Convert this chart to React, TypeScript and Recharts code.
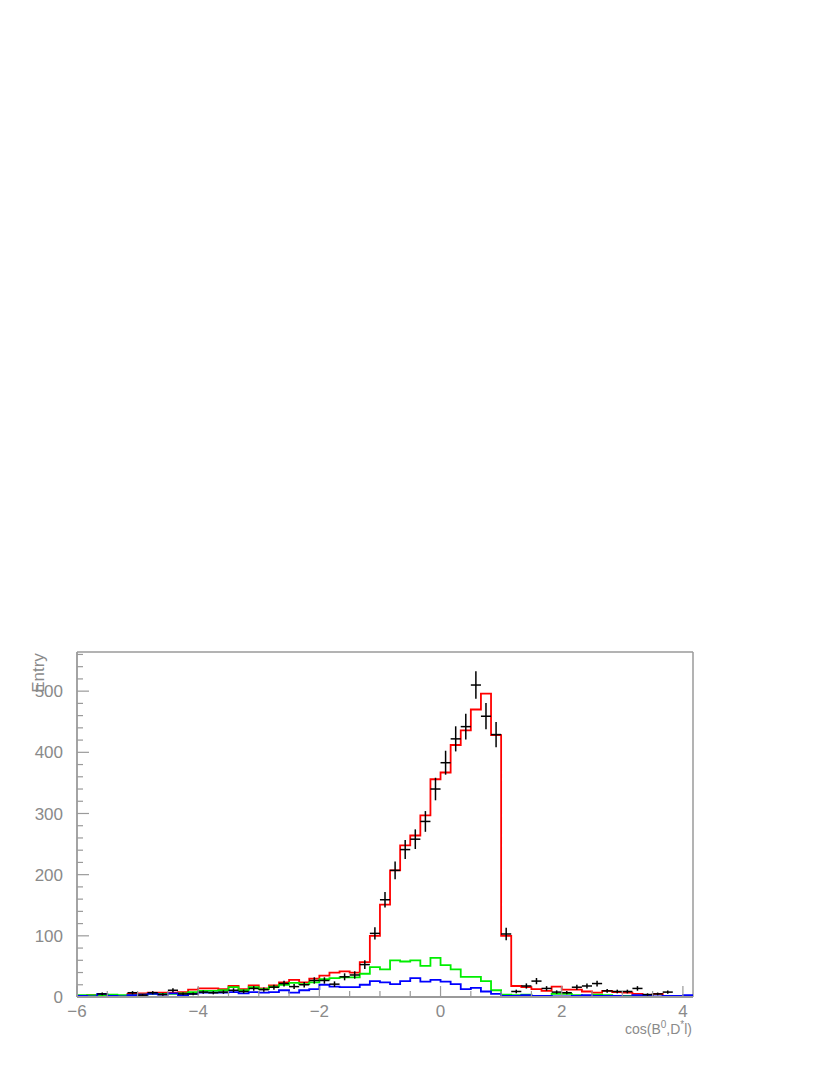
import { ComposedChart, Line, Scatter, ErrorBar, XAxis, YAxis, ReferenceLine } from "recharts";

// binning: 61 bins of width 1/6 starting at -6
const X_MIN = -6;
const BIN_WIDTH = 1 / 6;
const N_BINS = 61;
const X_MAX = X_MIN + N_BINS * BIN_WIDTH;
const Y_MAX = 564;

// measured data (black crosses)
const dataCounts = [
  0, 0, 5, 0, 0, 7, 3, 7, 4, 11, 5, 5, 8, 7, 8, 11, 9, 14, 12, 16,
  22, 17, 20, 27, 27, 21, 33, 36, 53, 104, 159, 207, 241, 258, 287, 340, 383, 422, 442, 510,
  459, 429, 103, 9, 18, 26, 14, 8, 7, 16, 18, 22, 10, 9, 9, 14, 4, 5, 8, 0,
  0,
];

// total fit (red)
const totalFit = [
  2, 3, 3, 2, 2, 5, 6, 7, 7, 7, 8, 12, 14, 14, 13, 18, 13, 19, 14, 19,
  24, 28, 24, 30, 35, 40, 42, 40, 57, 100, 151, 207, 248, 264, 297, 356, 367, 412, 436, 470,
  496, 428, 100, 18, 16, 13, 10, 17, 12, 12, 9, 7, 10, 8, 7, 5, 3, 5, 2, 1,
  1,
];

// background component (green)
const greenBkg = [
  3, 3, 3, 4, 3, 3, 4, 5, 5, 5, 6, 8, 10, 10, 11, 16, 11, 16, 13, 17,
  20, 23, 21, 24, 29, 31, 32, 32, 38, 49, 45, 60, 58, 60, 51, 64, 52, 45, 33, 33,
  26, 11, 4, 3, 4, 2, 2, 5, 5, 3, 2, 4, 3, 2, 2, 2, 1, 0, 2, 1,
  1,
];

// background component (blue)
const blueBkg = [
  2, 1, 5, 2, 1, 3, 4, 5, 4, 6, 3, 5, 7, 7, 7, 8, 6, 8, 7, 8,
  11, 7, 11, 13, 20, 17, 16, 16, 20, 26, 24, 21, 26, 31, 25, 28, 25, 21, 13, 15,
  9, 5, 2, 2, 3, 2, 2, 1, 1, 2, 3, 2, 2, 2, 1, 3, 2, 1, 2, 2,
  3,
];

const xTicks = [-6, -5.5, -5, -4.5, -4, -3.5, -3, -2.5, -2, -1.5, -1, -0.5, 0, 0.5, 1, 1.5, 2, 2.5, 3, 3.5, 4];
const yTicks = [0, 20, 40, 60, 80, 100, 120, 140, 160, 180, 200, 220, 240, 260, 280, 300, 320, 340, 360, 380, 400, 420, 440, 460, 480, 500, 520, 540, 560];

// histogram outline: one point per bin edge, last edge repeats last bin
const histData = Array.from({ length: N_BINS + 1 }, (_, i) => {
  const k = Math.min(i, N_BINS - 1);
  return {
    x: X_MIN + i * BIN_WIDTH,
    red: totalFit[k],
    green: greenBkg[k],
    blue: blueBkg[k],
  };
});

const pointData = dataCounts
  .map((n, i) => ({
    x: X_MIN + (i + 0.5) * BIN_WIDTH,
    y: n,
    ex: BIN_WIDTH / 2,
    ey: Math.sqrt(n),
  }))
  .filter((p) => p.y > 0);

const PLOT_LEFT = 77;
const PLOT_BOTTOM = 997;
const AXIS = "#9a9a9a";
const LABEL = "#8a8a8a";
const FONT = "'Liberation Sans', Arial, sans-serif";

const XTick = (props: any) => {
  const { x, payload } = props;
  const v = payload.value;
  const major = v % 2 === 0;
  return (
    <g>
      <line x1={x} x2={x} y1={PLOT_BOTTOM} y2={PLOT_BOTTOM - (major ? 11 : 6)} stroke={AXIS} strokeWidth={1.2} />
      {major && (
        <text x={x} y={PLOT_BOTTOM + 20} textAnchor="middle" fontSize={17} fontFamily={FONT} fill={LABEL}>
          {v < 0 ? `\u2212${-v}` : `${v}`}
        </text>
      )}
    </g>
  );
};

const YTick = (props: any) => {
  const { y, payload } = props;
  const v = payload.value;
  const major = v % 100 === 0;
  return (
    <g>
      <line x1={PLOT_LEFT} x2={PLOT_LEFT + (major ? 12 : 6)} y1={y} y2={y} stroke={AXIS} strokeWidth={1.2} />
      {major && (
        <text x={63} y={y} dy="0.36em" textAnchor="end" fontSize={17} fontFamily={FONT} fill={LABEL}>
          {v}
        </text>
      )}
    </g>
  );
};

const XTitle = () => (
  <text x={692} y={1034} textAnchor="end" fontSize={14} fontFamily={FONT} fill={LABEL}>
    cos(B
    <tspan fontSize={10} dy={-6}>0</tspan>
    <tspan dy={6}>,D</tspan>
    <tspan fontSize={10} dy={-6}>*</tspan>
    <tspan dy={6}>l)</tspan>
  </text>
);

const YTitle = () => (
  <text
    x={44}
    y={673}
    transform="rotate(-90 44 673)"
    textAnchor="middle"
    fontSize={17}
    fontFamily={FONT}
    fill={LABEL}
  >
    Entry
  </text>
);

const App = () => {
  return (
    <div style={{ position: "absolute", left: 0, top: 0, width: 830, height: 1075, background: "#fff" }}>
      <ComposedChart
        width={830}
        height={1075}
        data={histData}
        margin={{ top: 652, right: 137, bottom: 48, left: 37 }}
      >
        <XAxis
          dataKey="x"
          type="number"
          domain={[X_MIN, X_MAX]}
          allowDataOverflow
          ticks={xTicks}
          interval={0}
          tick={<XTick />}
          tickLine={false}
          tickSize={0}
          height={30}
          axisLine={{ stroke: AXIS, strokeWidth: 1.8 }}
          label={<XTitle />}
        />
        <YAxis
          type="number"
          domain={[0, Y_MAX]}
          allowDataOverflow
          ticks={yTicks}
          interval={0}
          tick={<YTick />}
          tickLine={false}
          tickSize={0}
          width={40}
          axisLine={{ stroke: AXIS, strokeWidth: 1.8 }}
          label={<YTitle />}
        />
        <ReferenceLine y={Y_MAX} stroke={AXIS} strokeWidth={1.5} />
        <ReferenceLine x={X_MAX} stroke={AXIS} strokeWidth={1.5} />
        <Line type="stepAfter" dataKey="red" stroke="#ff0000" strokeWidth={1.8} dot={false} activeDot={false} isAnimationActive={false} />
        <Line type="stepAfter" dataKey="green" stroke="#00ee00" strokeWidth={1.8} dot={false} activeDot={false} isAnimationActive={false} />
        <Line type="stepAfter" dataKey="blue" stroke="#0000ff" strokeWidth={1.8} dot={false} activeDot={false} isAnimationActive={false} />
        <Scatter data={pointData} dataKey="y" shape={() => <g />} isAnimationActive={false}>
          <ErrorBar dataKey="ex" direction="x" width={0} stroke="#000" strokeWidth={1.5} />
          <ErrorBar dataKey="ey" direction="y" width={0} stroke="#000" strokeWidth={1.5} />
        </Scatter>
      </ComposedChart>
    </div>
  );
};

export default App;
